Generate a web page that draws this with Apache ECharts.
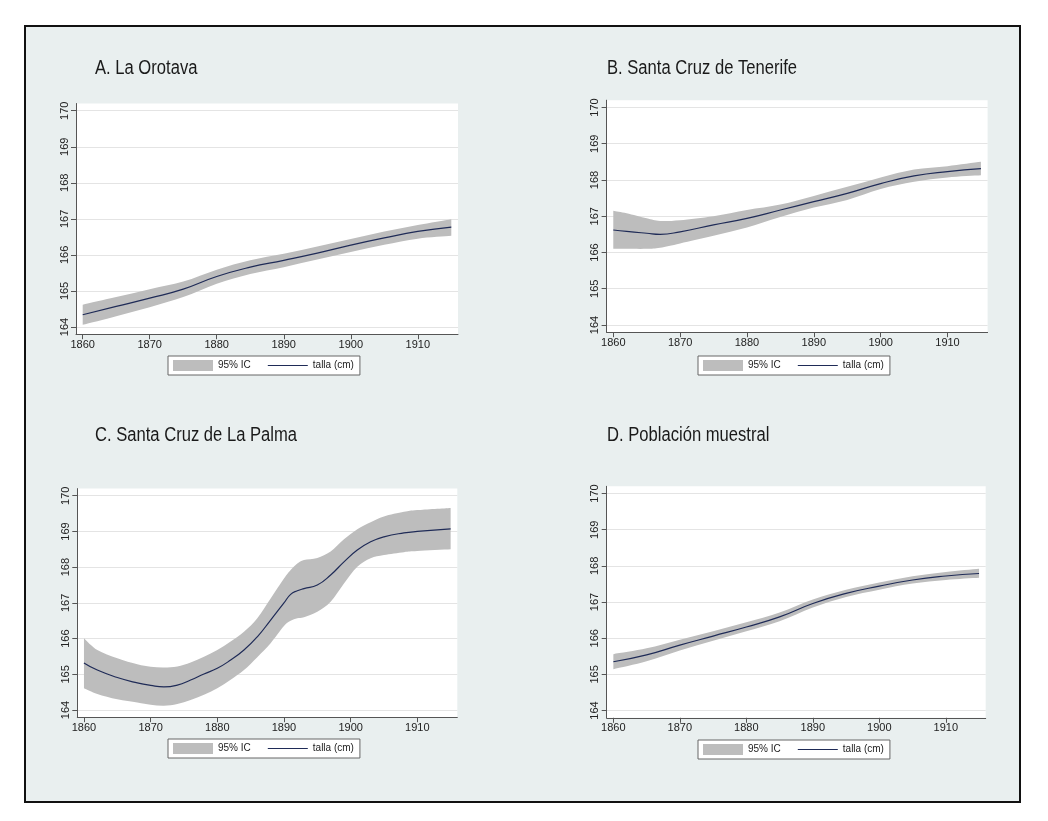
<!DOCTYPE html>
<html>
<head>
<meta charset="utf-8">
<script src="https://cdn.jsdelivr.net/npm/echarts@6/dist/echarts.min.js"></script>
<style>
html,body{margin:0;padding:0;background:#fff;}
#c{width:1048px;height:821px;}
</style>
</head>
<body>
<div id="c"></div>
<script>
// ---- Data ----
const panelTitles = ["A. La Orotava", "B. Santa Cruz de Tenerife", "C. Santa Cruz de La Palma", "D. Población muestral"];
const xTicks = [1860, 1870, 1880, 1890, 1900, 1910];
const yTicks = [164, 165, 166, 167, 168, 169, 170];
const legendNames = ["95% IC", "talla (cm)"];

const yearsA = [1860,1865,1870,1875,1880,1885,1890,1895,1900,1905,1910,1915];
const tallaA = [164.34,164.57,164.80,165.05,165.40,165.66,165.85,166.05,166.27,166.47,166.65,166.77];
const upperA = [164.62,164.83,165.05,165.26,165.59,165.85,166.03,166.23,166.44,166.65,166.83,166.99];
const lowerA = [164.06,164.30,164.55,164.83,165.20,165.47,165.66,165.87,166.08,166.28,166.45,166.53];

const yearsB = [1860,1862,1865,1867,1870,1875,1880,1885,1890,1895,1900,1905,1910,1915];
const tallaB = [166.62,166.58,166.53,166.50,166.57,166.76,166.94,167.17,167.40,167.63,167.90,168.11,168.23,168.31];
const upperB = [167.15,167.08,166.94,166.87,166.89,167.00,167.17,167.32,167.56,167.81,168.07,168.29,168.38,168.50];
const lowerB = [166.10,166.10,166.10,166.13,166.25,166.46,166.69,166.98,167.24,167.45,167.75,167.95,168.07,168.13];

const yearsC = [1860,1862,1865,1868,1870,1872,1874,1876,1878,1880,1882,1884,1886,1888,1890,1891,1892,1893,1895,1897,1899,1901,1903,1905,1908,1910,1915];
const tallaC = [165.32,165.12,164.91,164.76,164.69,164.65,164.70,164.84,165.01,165.17,165.40,165.68,166.05,166.52,167.00,167.24,167.34,167.40,167.50,167.78,168.15,168.48,168.71,168.85,168.96,169.00,169.07];
const upperC = [166.01,165.68,165.45,165.28,165.21,165.19,165.22,165.33,165.49,165.68,165.92,166.19,166.57,167.12,167.68,167.92,168.10,168.20,168.26,168.44,168.78,169.06,169.26,169.42,169.55,169.60,169.66];
const lowerC = [164.61,164.45,164.30,164.21,164.15,164.12,164.17,164.28,164.43,164.61,164.85,165.12,165.48,165.87,166.35,166.50,166.57,166.60,166.75,167.03,167.54,168.01,168.25,168.34,168.42,168.45,168.50];

const yearsD = [1860,1865,1870,1875,1880,1885,1890,1895,1900,1905,1910,1915];
const tallaD = [165.35,165.54,165.81,166.06,166.31,166.59,166.96,167.24,167.44,167.61,167.72,167.79];
const upperD = [165.56,165.72,165.96,166.19,166.44,166.71,167.07,167.34,167.54,167.71,167.83,167.92];
const lowerD = [165.14,165.36,165.66,165.93,166.19,166.47,166.85,167.14,167.34,167.51,167.61,167.67];

// ---- Layout ----
const grids = [
  {left: 76,    top: 103.5, width: 382, height: 230.7},
  {left: 606.6, top: 100.2, width: 381, height: 232},
  {left: 77.3,  top: 488.6, width: 380, height: 228.6},
  {left: 606.7, top: 486.3, width: 379, height: 231.5}
];
const titlePos = [[95, 58], [607, 58], [95, 425], [607, 425]];
const legendPos = [{left: 168, top: 356}, {left: 698, top: 356}, {left: 168, top: 739}, {left: 698, top: 740}];

const panels = [
  [yearsA, tallaA, upperA, lowerA],
  [yearsB, tallaB, upperB, lowerB],
  [yearsC, tallaC, upperC, lowerC],
  [yearsD, tallaD, upperD, lowerD]
];

const tickFont = "'Liberation Sans', Arial, sans-serif";
const bandColor = '#bdbdbd';
const lineColor = '#1f2b57';

// Catmull-Rom spline through screen points -> SVG path segments (no initial M)
function splineSegs(pts) {
  let d = '';
  const n = pts.length;
  for (let i = 0; i < n - 1; i++) {
    const p0 = pts[i > 0 ? i - 1 : i], p1 = pts[i], p2 = pts[i + 1], p3 = pts[i + 2 < n ? i + 2 : i + 1];
    const c1x = p1[0] + (p2[0] - p0[0]) / 6, c1y = p1[1] + (p2[1] - p0[1]) / 6;
    const c2x = p2[0] - (p3[0] - p1[0]) / 6, c2y = p2[1] - (p3[1] - p1[1]) / 6;
    d += ' C' + c1x.toFixed(2) + ',' + c1y.toFixed(2) + ' ' + c2x.toFixed(2) + ',' + c2y.toFixed(2) + ' ' + p2[0].toFixed(2) + ',' + p2[1].toFixed(2);
  }
  return d;
}

const option = {
  animation: false,
  backgroundColor: '#ffffff',
  graphic: {elements: [{
    type: 'rect', z: -10, silent: true,
    shape: {x: 25, y: 26, width: 995, height: 776},
    style: {fill: '#e9efef', stroke: '#111', lineWidth: 2}
  }].concat(panelTitles.map((t, i) => ({
    type: 'text', x: titlePos[i][0], y: titlePos[i][1], scaleX: 0.83, z: 5, silent: true,
    style: {text: t, fill: '#1a1a1a', font: "normal 20px 'Liberation Sans', Arial, sans-serif", textAlign: 'left', textVerticalAlign: 'top'}
  })))},
  legend: legendPos.map((p, i) => ({
    data: [
      {name: legendNames[0], icon: 'rect'},
      {name: legendNames[1], icon: 'path://M0,0 L40,0 L40,1.1 L0,1.1 Z'}
    ],
    left: p.left, top: p.top, orient: 'horizontal',
    itemWidth: 40, itemHeight: 11, itemGap: 17,
    padding: [4, 6, 4, 5],
    borderColor: '#666', borderWidth: 1, backgroundColor: '#ffffff', borderRadius: 0,
    selectedMode: false,
    textStyle: {fontFamily: tickFont, fontSize: 10, color: '#222'}
  })),
  grid: grids.map(g => Object.assign({show: true, backgroundColor: '#ffffff', borderWidth: 0, containLabel: false, outerBoundsMode: 'none'}, g)),
  xAxis: grids.map((g, i) => ({
    type: 'value', gridIndex: i, min: 1859, max: 1916,
    axisLine: {show: true, onZero: false, lineStyle: {color: '#555', width: 1}},
    axisTick: {show: true, length: 5, customValues: xTicks, lineStyle: {color: '#555'}},
    axisLabel: {customValues: xTicks, margin: 5, fontFamily: tickFont, fontSize: 11, color: '#222', formatter: v => String(v)},
    splitLine: {show: false}
  })),
  yAxis: grids.map((g, i) => ({
    type: 'value', gridIndex: i, min: 163.8, max: 170.2,
    axisLine: {show: true, onZero: false, lineStyle: {color: '#555', width: 1}},
    axisTick: {show: true, length: 5, customValues: yTicks, lineStyle: {color: '#555'}},
    axisLabel: {customValues: yTicks, rotate: 90, margin: 6, fontFamily: tickFont, fontSize: 11, color: '#222', formatter: v => String(v)},
    splitLine: {show: true, lineStyle: {color: '#e4e4e4', width: 1}}
  })),
  series: []
};

panels.forEach((p, i) => {
  const [yrs, talla, up, lo] = p;
  option.series.push({
    type: 'custom', name: legendNames[0], xAxisIndex: i, yAxisIndex: i,
    data: yrs.map((y, k) => [y, up[k], lo[k]]),
    encode: {x: 0, y: [1, 2]},
    itemStyle: {color: bandColor}, silent: true, z: 2,
    renderItem: function (params, api) {
      if (params.dataIndex !== 0) return null;
      const top = yrs.map((y, k) => api.coord([y, up[k]]));
      const bot = yrs.map((y, k) => api.coord([y, lo[k]])).reverse();
      const d = 'M' + top[0][0].toFixed(2) + ',' + top[0][1].toFixed(2) + splineSegs(top) +
        ' L' + bot[0][0].toFixed(2) + ',' + bot[0][1].toFixed(2) + splineSegs(bot) + ' Z';
      return {
        type: 'path',
        shape: {pathData: d},
        style: {fill: bandColor, stroke: null}
      };
    }
  });
  option.series.push({
    type: 'line', name: legendNames[1], xAxisIndex: i, yAxisIndex: i,
    data: yrs.map((y, k) => [y, talla[k]]), symbol: 'none', showSymbol: false, smooth: true, silent: true,
    itemStyle: {color: lineColor}, lineStyle: {color: lineColor, width: 1.2}, z: 3
  });
});

const chart = echarts.init(document.getElementById('c'), null, {renderer: 'canvas'});
chart.setOption(option);
</script>
</body>
</html>
